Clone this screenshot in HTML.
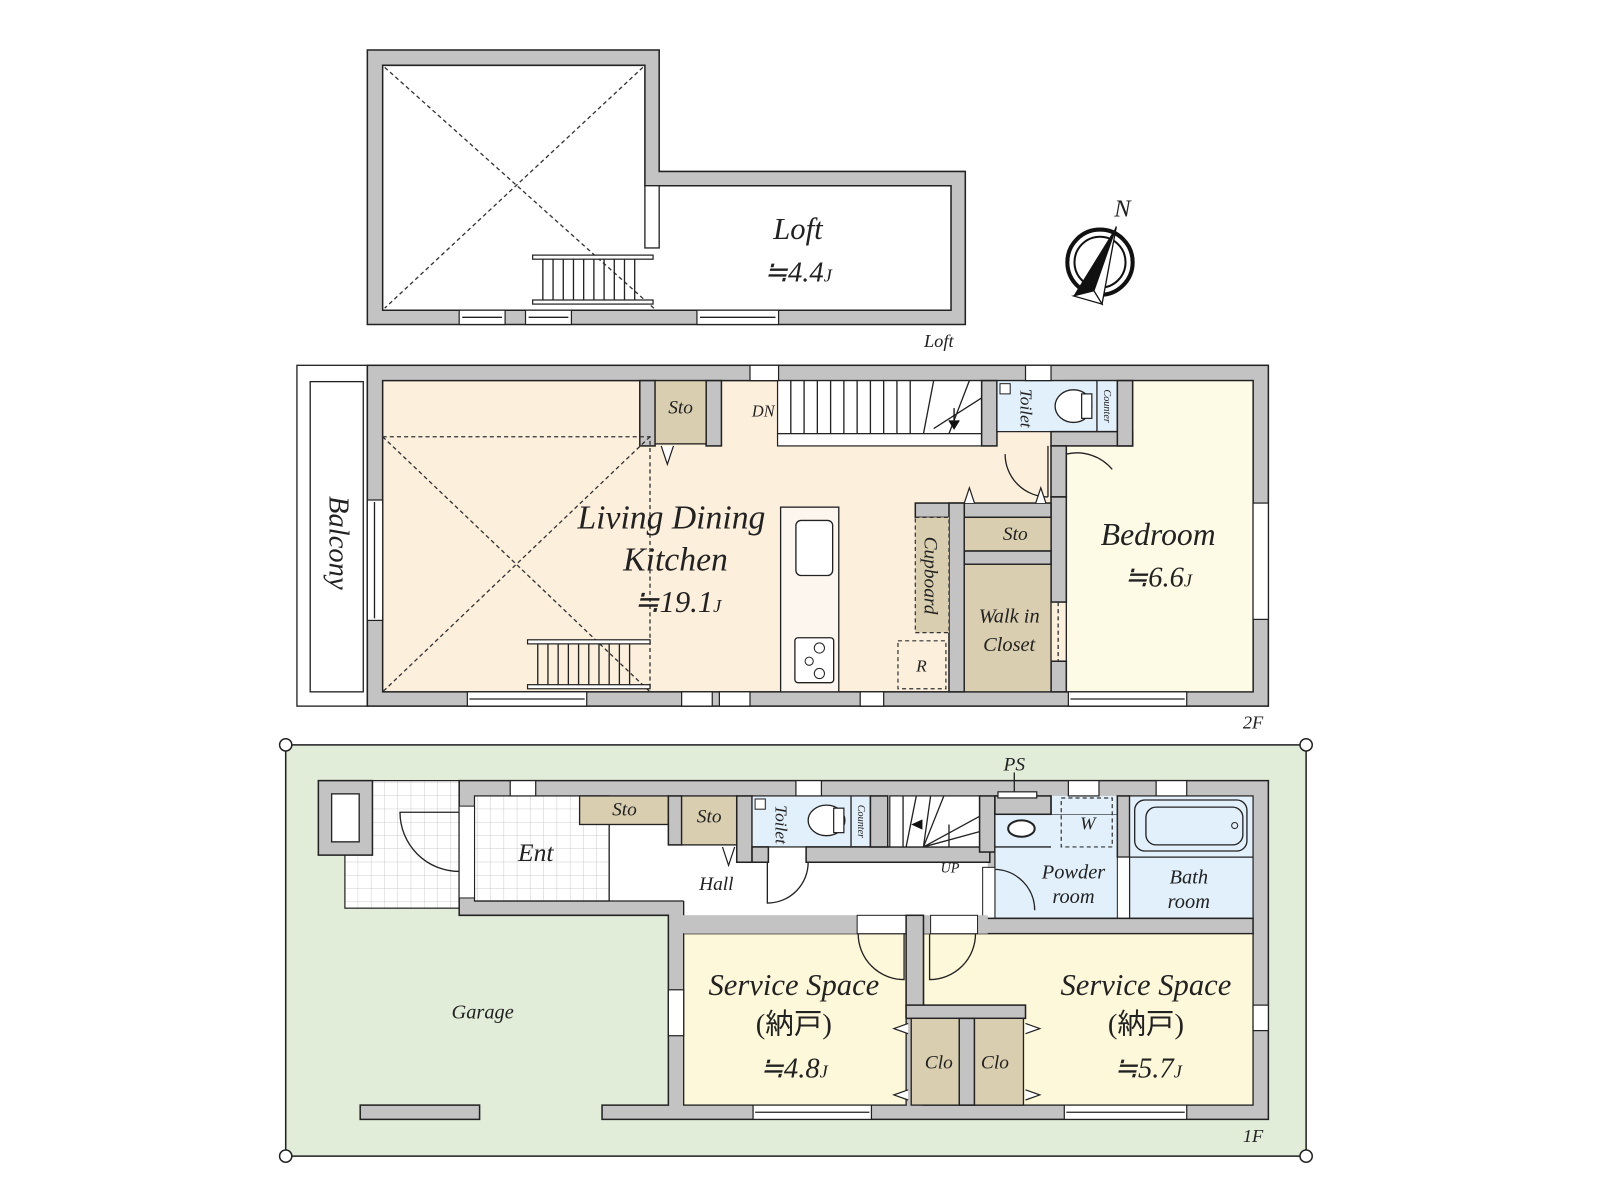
<!DOCTYPE html>
<html><head><meta charset="utf-8"><style>
html,body{margin:0;padding:0;background:#fff;width:1600px;height:1200px;overflow:hidden}
svg{display:block}
text{font-family:"Liberation Serif","Noto Serif CJK SC",serif;font-style:italic;fill:#222}
.jp{font-family:"Liberation Serif","Noto Sans CJK JP",sans-serif;font-style:normal}
.w{fill:#c3c3c3;stroke:#222;stroke-width:1.5}
.ln{stroke:#222;stroke-width:1.3;fill:none}
.ds{stroke:#333;stroke-width:1.3;fill:none;stroke-dasharray:4 3}
.st{fill:#d9cfb0;stroke:#222;stroke-width:1.3}
.win{fill:#fff;stroke:#222;stroke-width:1.2}
</style></head><body>
<svg width="1600" height="1200" viewBox="0 0 1568 1176" xmlns="http://www.w3.org/2000/svg">
<!-- ========== LOFT ========== -->
<path class="w" d="M360 49H646V168H946V318H360Z"/>
<path d="M375 64H632V182H932V304H375Z" fill="#fff" stroke="#222" stroke-width="1.5"/>
<rect x="632" y="182" width="14" height="61" fill="#fff" stroke="#222" stroke-width="1.3"/>
<line class="ds" x1="377" y1="66" x2="643" y2="304"/>
<line class="ds" x1="630" y1="66" x2="377" y2="302"/>
<g>
<rect x="522" y="250" width="118" height="4" fill="#fff" stroke="#222" stroke-width="1.2"/>
<rect x="522" y="294" width="118" height="4" fill="#fff" stroke="#222" stroke-width="1.2"/>
<path class="ln" d="M532 254V294M542 254V294M552 254V294M562 254V294M572 254V294M582 254V294M592 254V294M602 254V294M612 254V294M622 254V294"/>
</g>
<rect class="win" x="450" y="304" width="45" height="14"/><line class="ln" x1="453" y1="311" x2="492" y2="311"/>
<rect class="win" x="515" y="304" width="45" height="14"/><line class="ln" x1="518" y1="311" x2="557" y2="311"/>
<rect class="win" x="683" y="304" width="80" height="14"/><line class="ln" x1="686" y1="311" x2="760" y2="311"/>
<text x="782" y="234" font-size="30" text-anchor="middle">Loft</text>
<text x="782" y="276" font-size="28" text-anchor="middle">≒4.4<tspan font-size="18">J</tspan></text>
<text x="920" y="340" font-size="18" text-anchor="middle">Loft</text>

<!-- compass -->
<circle cx="1078" cy="257" r="32" fill="none" stroke="#111" stroke-width="4"/>
<circle cx="1078" cy="257" r="25" fill="none" stroke="#111" stroke-width="2"/>
<path d="M1094 222L1052 290L1072 285Z" fill="#111"/>
<path d="M1094 222L1072 285L1080 298Z" fill="#fff" stroke="#111" stroke-width="1.3"/>
<path d="M1052 290L1072 285L1080 298Z" fill="#fff" stroke="#111" stroke-width="1.2"/>
<text x="1100" y="212" font-size="24" text-anchor="middle">N</text>

<!-- ========== 2F ========== -->
<rect x="291" y="358" width="69" height="334" fill="#fff" stroke="#222" stroke-width="1.3"/>
<rect x="304" y="374" width="52" height="304" fill="#fff" stroke="#222" stroke-width="1.3"/>
<text transform="translate(323,532) rotate(90)" font-size="28" text-anchor="middle">Balcony</text>
<rect class="w" x="360" y="358" width="883" height="334"/>
<rect x="375" y="373" width="853" height="305" fill="#fcefdc" stroke="#222" stroke-width="1.5"/>
<rect x="1045" y="373" width="183" height="305" fill="#fdfae5" stroke="#222" stroke-width="1.3"/>
<!-- sto top -->
<rect class="w" x="627" y="373" width="15" height="64"/>
<rect class="w" x="692" y="373" width="15" height="64"/>
<rect class="st" x="642" y="373" width="50" height="62"/>
<path d="M648 437L654 455L660 437" fill="#fff" stroke="#222" stroke-width="1.2"/>
<!-- stair -->
<rect x="762" y="373" width="200" height="52" fill="#fff" stroke="#222" stroke-width="1.2"/>
<path class="ln" d="M775 373V425M788 373V425M801 373V425M814 373V425M827 373V425M840 373V425M853 373V425M866 373V425M879 373V425M892 373V425M905 425L915 373M915 420L962 390M930 425L950 373"/>
<path d="M935 400V418M930 412L935 420L940 412" stroke="#111" stroke-width="1.3" fill="#111"/>
<rect x="762" y="425" width="213" height="12" fill="#fff" stroke="#222" stroke-width="1.2"/>
<rect class="w" x="962" y="373" width="15" height="64"/>
<text x="748" y="408" font-size="16" text-anchor="middle">DN</text>
<!-- toilet 2F -->
<rect x="977" y="373" width="118" height="50" fill="#e2f0fb" stroke="#222" stroke-width="1.2"/>
<rect class="w" x="1030" y="423" width="80" height="14"/>
<rect class="w" x="1095" y="373" width="15" height="64"/>
<line class="ln" x1="1075" y1="373" x2="1075" y2="423"/>
<ellipse cx="1052" cy="398" rx="18" ry="16" fill="#fff" stroke="#222" stroke-width="1.3"/>
<rect x="1060" y="386" width="10" height="24" fill="#fff" stroke="#222" stroke-width="1.2"/>
<rect x="980" y="376" width="10" height="10" fill="#fff" stroke="#222"/>
<text transform="translate(1000,400) rotate(90)" font-size="17" text-anchor="middle">Toilet</text>
<text transform="translate(1082,398) rotate(90)" font-size="10" text-anchor="middle">Counter</text>
<!-- partition -->
<rect class="w" x="1030" y="437" width="15" height="50"/>
<rect class="w" x="1030" y="487" width="15" height="103"/>
<rect class="w" x="1030" y="648" width="15" height="30"/>
<line class="ds" x1="1037" y1="590" x2="1037" y2="648"/>
<path class="ln" d="M1027 437V487M1027 487A42 42 0 0 1 985 445M1045 445V487M1045 445A45 45 0 0 1 1090 460"/>
<rect class="w" x="897" y="493" width="133" height="14"/>
<rect class="w" x="930" y="493" width="15" height="185"/>
<rect class="st" x="945" y="507" width="85" height="33"/>
<rect class="w" x="945" y="540" width="85" height="13"/>
<rect class="st" x="945" y="553" width="85" height="125"/>
<rect x="897" y="507" width="33" height="113" fill="#d9cfb0" stroke="#333" stroke-width="1.2" stroke-dasharray="4 3"/>
<rect x="880" y="628" width="47" height="47" fill="none" stroke="#333" stroke-width="1.2" stroke-dasharray="4 3"/>
<path d="M945 493L950 478L955 493M1015 493L1020 478L1025 493" fill="#fff" stroke="#222" stroke-width="1.2"/>
<text x="995" y="529" font-size="19" text-anchor="middle">Sto</text>
<text transform="translate(906,564) rotate(90)" font-size="19" text-anchor="middle">Cupboard</text>
<text x="903" y="658" font-size="17" text-anchor="middle">R</text>
<text x="989" y="610" font-size="20" text-anchor="middle">Walk in</text>
<text x="989" y="638" font-size="20" text-anchor="middle">Closet</text>
<!-- void -->
<path class="ds" d="M375 428H637V678"/>
<line class="ds" x1="375" y1="428" x2="637" y2="678"/>
<line class="ds" x1="637" y1="428" x2="375" y2="678"/>
<rect x="517" y="627" width="120" height="4" fill="#fff" stroke="#222" stroke-width="1.2"/>
<rect x="517" y="671" width="120" height="4" fill="#fff" stroke="#222" stroke-width="1.2"/>
<path class="ln" d="M527 631V671M537 631V671M547 631V671M557 631V671M567 631V671M577 631V671M587 631V671M597 631V671M607 631V671M617 631V671"/>
<!-- kitchen -->
<rect x="765" y="497" width="57" height="181" fill="#fdf6ee" stroke="#222" stroke-width="1.3"/>
<rect x="780" y="510" width="36" height="54" rx="5" fill="#fff" stroke="#222" stroke-width="1.3"/>
<rect x="779" y="625" width="38" height="44" rx="3" fill="#fff" stroke="#222" stroke-width="1.3"/>
<circle cx="803" cy="635" r="5" fill="none" stroke="#222"/><circle cx="793" cy="648" r="4" fill="none" stroke="#222"/><circle cx="803" cy="660" r="5" fill="none" stroke="#222"/>
<!-- 2F windows -->
<rect class="win" x="735" y="358" width="28" height="15"/>
<rect class="win" x="1005" y="358" width="25" height="15"/>
<rect class="win" x="458" y="678" width="117" height="14"/><line class="ln" x1="460" y1="685" x2="573" y2="685"/>
<rect class="win" x="668" y="678" width="30" height="14"/><rect class="win" x="705" y="678" width="30" height="14"/>
<rect class="win" x="843" y="678" width="23" height="14"/>
<rect class="win" x="1047" y="678" width="116" height="14"/><line class="ln" x1="1049" y1="685" x2="1161" y2="685"/>
<rect class="win" x="360" y="490" width="15" height="118"/><line class="ln" x1="367" y1="492" x2="367" y2="606"/>
<rect class="win" x="1228" y="493" width="15" height="114"/>
<text x="658" y="518" font-size="33" text-anchor="middle">Living Dining</text>
<text x="662" y="559" font-size="33" text-anchor="middle">Kitchen</text>
<text x="664" y="600" font-size="30" text-anchor="middle">≒19.1<tspan font-size="18">J</tspan></text>
<text x="667" y="405" font-size="19" text-anchor="middle">Sto</text>
<text x="1135" y="534" font-size="31" text-anchor="middle">Bedroom</text>
<text x="1135" y="575" font-size="28" text-anchor="middle">≒6.6<tspan font-size="18">J</tspan></text>
<text x="1228" y="714" font-size="18" text-anchor="middle">2F</text>

<!-- ========== 1F ========== -->
<rect x="280" y="730" width="1000" height="403" fill="#e1ecd9" stroke="#222" stroke-width="1.5"/>
<circle cx="280" cy="730" r="6" fill="#fff" stroke="#222" stroke-width="1.5"/>
<circle cx="1280" cy="730" r="6" fill="#fff" stroke="#222" stroke-width="1.5"/>
<circle cx="280" cy="1133" r="6" fill="#fff" stroke="#222" stroke-width="1.5"/>
<circle cx="1280" cy="1133" r="6" fill="#fff" stroke="#222" stroke-width="1.5"/>
<defs><pattern id="tile" width="13" height="13" patternUnits="userSpaceOnUse"><rect width="13" height="13" fill="#fff"/><path d="M13 0V13M0 13H13" stroke="#ccc" stroke-width="1"/></pattern></defs>
<rect x="338" y="765" width="112" height="125" fill="url(#tile)" stroke="#222" stroke-width="1.2"/>
<rect class="w" x="312" y="765" width="53" height="73"/>
<rect x="325" y="778" width="27" height="47" fill="#fff" stroke="#222" stroke-width="1.3"/>
<path class="w" d="M450 765H1243V1097H590V1083H655V897H450Z"/>
<rect x="465" y="780" width="132" height="103" fill="url(#tile)" stroke="#222" stroke-width="1.2"/>
<rect x="597" y="780" width="371" height="103" fill="#fff"/>
<rect x="670" y="883" width="298" height="14" fill="#fff"/>
<line class="ln" x1="597" y1="780" x2="597" y2="883"/>
<line class="ln" x1="465" y1="883" x2="670" y2="883"/><line class="ln" x1="670" y1="883" x2="670" y2="897"/>
<!-- door ent -->
<rect x="450" y="790" width="15" height="90" fill="#fff" stroke="#222" stroke-width="1"/>
<path class="ln" d="M450 796H392A58 58 0 0 0 450 854"/>
<rect class="st" x="568" y="780" width="87" height="28"/>
<rect class="w" x="655" y="780" width="13" height="48"/>
<rect class="st" x="668" y="780" width="54" height="48"/>
<path d="M708 830L714 848L720 830" fill="#fff" stroke="#222" stroke-width="1.2"/>
<rect class="w" x="722" y="780" width="15" height="65"/>
<rect x="737" y="780" width="116" height="50" fill="#e2f0fb" stroke="#222" stroke-width="1.2"/>
<line class="ln" x1="834" y1="780" x2="834" y2="830"/>
<ellipse cx="810" cy="804" rx="18" ry="15" fill="#fff" stroke="#222" stroke-width="1.3"/>
<rect x="817" y="792" width="10" height="24" fill="#fff" stroke="#222" stroke-width="1.2"/>
<rect x="740" y="783" width="10" height="10" fill="#fff" stroke="#222"/>
<rect class="w" x="737" y="830" width="16" height="15"/>
<rect class="w" x="790" y="830" width="180" height="15"/>
<rect class="w" x="853" y="780" width="17" height="50"/>
<path class="ln" d="M752 845V885A40 40 0 0 0 792 845"/>
<rect x="872" y="780" width="88" height="50" fill="#fff" stroke="#222" stroke-width="1.2"/>
<path class="ln" d="M885 780V830M898 780L888 830M912 780L905 830M925 780L905 830M905 830L960 800M905 830L960 815M930 808V830"/>
<path d="M893 808L904 803L904 813Z" fill="#111"/>
<text x="695" y="806" font-size="19" text-anchor="middle">Sto</text>
<text x="612" y="799" font-size="19" text-anchor="middle">Sto</text>
<text x="525" y="844" font-size="25" text-anchor="middle">Ent</text>
<text x="702" y="872" font-size="19" text-anchor="middle">Hall</text>
<text x="931" y="855" font-size="14" text-anchor="middle">UP</text>
<text transform="translate(760,808) rotate(90)" font-size="17" text-anchor="middle">Toilet</text>
<text transform="translate(841,805) rotate(90)" font-size="10" text-anchor="middle">Counter</text>
<!-- powder/bath -->
<rect class="w" x="960" y="780" width="15" height="55"/>
<rect x="975" y="798" width="125" height="102" fill="#e2f0fb" stroke="#222" stroke-width="1.2"/>
<rect x="1030" y="780" width="70" height="18" fill="#e2f0fb"/>
<rect class="w" x="975" y="780" width="55" height="18"/>
<rect x="978" y="776" width="38" height="6" fill="#fff" stroke="#222" stroke-width="1.2"/>
<line class="ln" x1="994" y1="757" x2="994" y2="776"/>
<text x="994" y="755" font-size="19" text-anchor="middle">PS</text>
<line class="ln" x1="1030" y1="780" x2="1030" y2="798"/>
<rect x="1040" y="782" width="50" height="48" fill="none" stroke="#333" stroke-width="1.2" stroke-dasharray="4 3"/>
<text x="1066" y="813" font-size="18" text-anchor="middle">W</text>
<line class="ln" x1="975" y1="830" x2="1030" y2="830"/>
<ellipse cx="1001" cy="812" rx="13" ry="8" fill="#fff" stroke="#222" stroke-width="2"/>
<rect x="963" y="850" width="12" height="50" fill="#fff" stroke="#222" stroke-width="1"/>
<path class="ln" d="M975 852A40 40 0 0 1 1014 892"/>
<rect class="w" x="1095" y="780" width="12" height="60"/>
<rect x="1095" y="840" width="12" height="60" fill="#fff" stroke="#222" stroke-width="1"/>
<rect x="1107" y="780" width="121" height="120" fill="#e2f0fb" stroke="#222" stroke-width="1.2"/>
<line class="ln" x1="1107" y1="840" x2="1228" y2="840"/>
<rect x="1112" y="784" width="110" height="50" rx="10" fill="#e2f0fb" stroke="#222" stroke-width="1.3"/>
<rect x="1123" y="791" width="95" height="37" rx="10" fill="none" stroke="#222" stroke-width="1.3"/>
<circle cx="1210" cy="809" r="3" fill="none" stroke="#222"/>
<text x="1052" y="861" font-size="20" text-anchor="middle">Powder</text>
<text x="1052" y="885" font-size="20" text-anchor="middle">room</text>
<text x="1165" y="866" font-size="20" text-anchor="middle">Bath</text>
<text x="1165" y="890" font-size="20" text-anchor="middle">room</text>
<rect class="w" x="963" y="900" width="265" height="15"/>
<!-- service spaces -->
<rect x="670" y="915" width="218" height="168" fill="#fdf8da" stroke="#222" stroke-width="1.3"/>
<rect x="905" y="915" width="323" height="168" fill="#fdf8da" stroke="#222" stroke-width="1.3"/>
<rect x="670" y="897" width="298" height="18" fill="#c3c3c3"/>
<rect x="840" y="897" width="48" height="18" fill="#fff" stroke="#222"/>
<rect x="912" y="897" width="46" height="18" fill="#fff" stroke="#222"/>
<path class="ln" d="M886 915V960A45 45 0 0 1 841 915M911 915V960A45 45 0 0 0 956 915"/>
<rect class="w" x="888" y="897" width="17" height="100"/>
<rect class="w" x="888" y="985" width="117" height="13"/>
<rect class="w" x="940" y="998" width="15" height="85"/>
<rect class="st" x="893" y="998" width="47" height="85"/>
<rect class="st" x="955" y="998" width="48" height="85"/>
<path d="M890 1003L876 1008L890 1013M890 1068L876 1073L890 1078M1005 1003L1019 1008L1005 1013M1005 1068L1019 1073L1005 1078" fill="#fff" stroke="#222" stroke-width="1.2"/>
<text x="920" y="1047" font-size="19" text-anchor="middle">Clo</text>
<text x="975" y="1047" font-size="19" text-anchor="middle">Clo</text>
<text x="778" y="975" font-size="30" text-anchor="middle">Service Space</text>
<text x="778" y="1013" font-size="28" text-anchor="middle" class="jp">(納戸)</text>
<text x="778" y="1056" font-size="28" text-anchor="middle">≒4.8<tspan font-size="18">J</tspan></text>
<text x="1123" y="975" font-size="30" text-anchor="middle">Service Space</text>
<text x="1123" y="1013" font-size="28" text-anchor="middle" class="jp">(納戸)</text>
<text x="1125" y="1056" font-size="28" text-anchor="middle">≒5.7<tspan font-size="18">J</tspan></text>
<!-- 1F windows -->
<rect class="win" x="500" y="765" width="25" height="15"/>
<rect class="win" x="780" y="765" width="25" height="15"/>
<rect class="win" x="1047" y="765" width="30" height="15"/>
<rect class="win" x="1133" y="765" width="30" height="15"/>
<rect class="win" x="655" y="970" width="15" height="45"/>
<rect class="win" x="1228" y="985" width="15" height="25"/>
<rect class="win" x="738" y="1083" width="116" height="14"/><line class="ln" x1="740" y1="1090" x2="852" y2="1090"/>
<rect class="win" x="1043" y="1083" width="120" height="14"/><line class="ln" x1="1045" y1="1090" x2="1161" y2="1090"/>
<rect class="w" x="353" y="1083" width="117" height="14"/>
<text x="473" y="998" font-size="20" text-anchor="middle">Garage</text>
<text x="1228" y="1119" font-size="18" text-anchor="middle">1F</text>
</svg>
</body></html>
